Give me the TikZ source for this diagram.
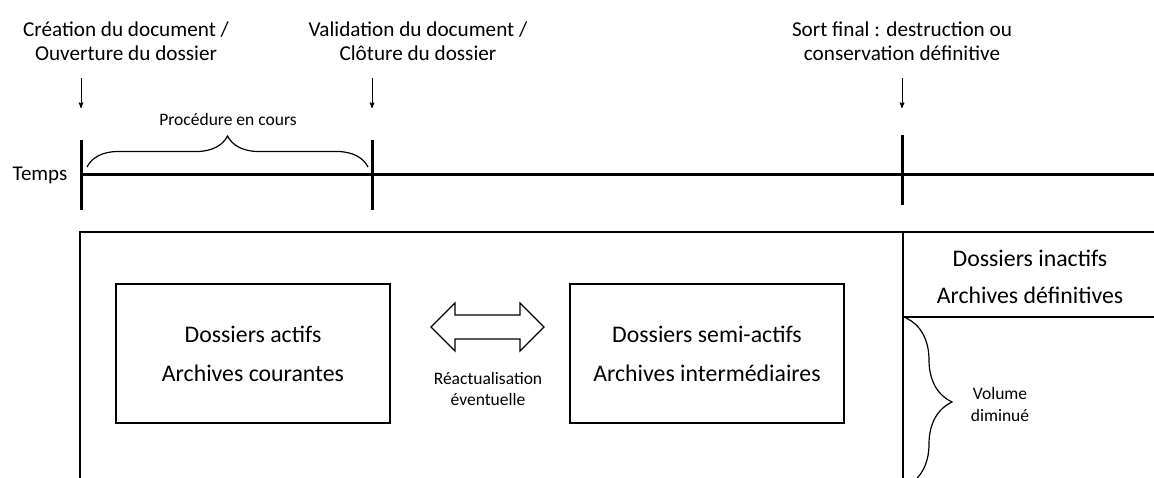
\documentclass[tikz,border=0pt]{standalone}
\usepackage{fontspec}
\setmainfont{Carlito}
\usetikzlibrary{positioning, arrows, decorations.pathreplacing}

\begin{document}
\begin{tikzpicture}
	[x=1pt, y=-1pt,
	 thinline/.style={line width=1.2pt},
	 axis/.style={line width=3pt},
	 tick/.style={fill=black, inner sep=0pt, minimum width=3pt, minimum height=70pt},
	 pointer/.style={->, >=stealth', line width=1pt},
	 toplabel/.style={font={\fontsize{21.2}{23.5}\selectfont\lineskiplimit=-30pt}, align=center},
	 small/.style={font={\fontsize{17.5}{21}\selectfont\lineskiplimit=-30pt}, align=center},
	 box/.style={draw, thinline, minimum width=274pt, minimum height=139pt, align=center,
	             font=\fontsize{23.8}{39}\selectfont},
	 brace/.style={decorate, thinline, decoration={brace, amplitude=#1}}]
   \useasboundingbox (0,0) rectangle (1154,478);
   % labels above the time line
   \node[toplabel] (c_1) at (126,41) {Création du document /\\Ouverture du dossier};
   \node[toplabel] (c_2) at (418,41) {Validation du document /\\Clôture du dossier};
   \node[toplabel] (c_3) at (902,41) {Sort final : destruction ou\\conservation définitive};
   \coordinate (a_1) at (81,78);  \coordinate (e_1) at (81,108);
   \coordinate (a_2) at (372,78); \coordinate (e_2) at (372,108);
   \coordinate (a_3) at (902,78); \coordinate (e_3) at (902,108);
   \draw[pointer] (a_1) -- (e_1);
   \draw[pointer] (a_2) -- (e_2);
   \draw[pointer] (a_3) -- (e_3);
   % time line
   \node (temps) at (40,175) {\fontsize{21}{24}\selectfont Temps};
   \node[tick] (t_1) at (81,175) {};
   \node[tick] (t_2) at (372,175) {};
   \node[tick] (t_3) at (902,170) {};
   \coordinate (t_end) at (1160,175);
   \draw[axis] (t_1.center) -- (t_end);
   \coordinate (b_1) at (87,167); \coordinate (b_2) at (368,167);
   \draw[brace=31pt] (b_1) -- (b_2);
   \node[small] (proc) at (228,119) {Procédure en cours};
   % phases
   \coordinate (f_1) at (80,485);  \coordinate (f_2) at (80,232);
   \coordinate (f_3) at (1160,232); \coordinate (f_4) at (903,232);
   \coordinate (f_5) at (903,485); \coordinate (f_6) at (903,317);
   \coordinate (f_7) at (1160,317);
   \draw[thinline] (f_1) -- (f_2) -- (f_3);
   \draw[thinline] (f_4) -- (f_5);
   \draw[thinline] (f_6) -- (f_7);
   \node[box] (actifs) at (253,353.5) {Dossiers actifs\\Archives courantes};
   \node[box] (semi) at (707,353.5) {Dossiers semi-actifs\\Archives intermédiaires};
   \node[align=center, font=\fontsize{23.8}{37}\selectfont] (inactifs) at (1030,277)
      {Dossiers inactifs\\Archives définitives};
   \draw[thinline, line join=miter] (431,327) -- (455,303) -- (455,315) -- (520,315)
      -- (520,303) -- (544,327) -- (520,351) -- (520,339) -- (455,339)
      -- (455,351) -- cycle;
   \node[small] (react) at (488,389) {Réactualisation\\éventuelle};
   \coordinate (v_1) at (906,318); \coordinate (v_2) at (906,486);
   \draw[brace=46pt] (v_1) -- (v_2);
   \node[small, font={\fontsize{17.5}{22}\selectfont\lineskiplimit=-30pt}] (volume) at (1000,404) {Volume\\diminué};
\end{tikzpicture}
\end{document}
